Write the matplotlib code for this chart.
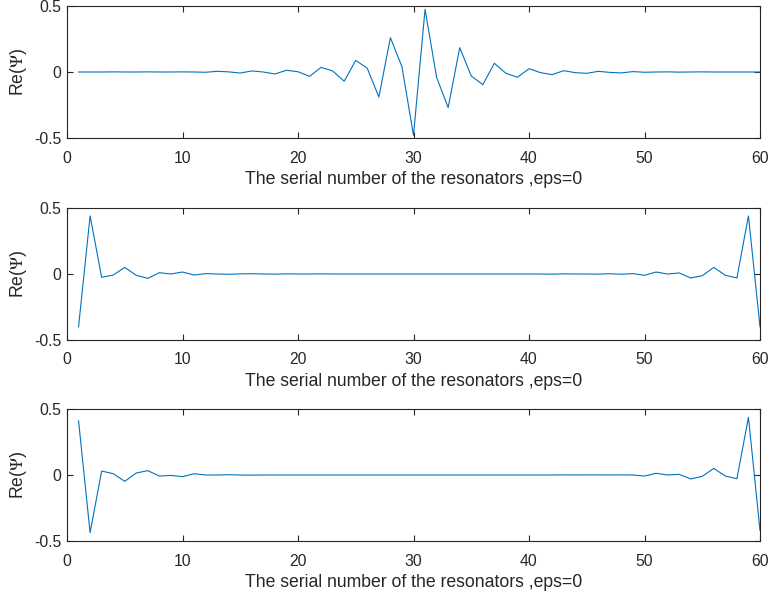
import numpy as np
import matplotlib
matplotlib.use("Agg")
import matplotlib.pyplot as plt

plt.rcParams['font.family'] = ['Liberation Sans', 'DejaVu Sans']
plt.rcParams['mathtext.fontset'] = 'stix'

# resonator index
n = np.arange(1, 61)

# mode 1: localized in the middle of the chain
psi_mid = [
    0.000, 0.000, 0.000, 0.001, 0.000, 0.000, 0.001, 0.000, 0.000, 0.001,
    0.000, -0.002, 0.005, 0.001, -0.008, 0.008, 0.000, -0.015, 0.013, 0.002,
    -0.033, 0.035, 0.008, -0.070, 0.088, 0.028, -0.190, 0.260, 0.040, -0.480,
    0.475, -0.040, -0.270, 0.184, -0.030, -0.096, 0.066, -0.010, -0.040, 0.025,
    -0.005, -0.020, 0.010, -0.005, -0.010, 0.005, -0.003, -0.007, 0.003, -0.002,
    0.000, 0.001, -0.001, 0.000, 0.001, 0.000, 0.000, 0.000, 0.000, 0.000,
]

# mode 2: localized at both ends (symmetric)
psi_edge_sym = [
    -0.400, 0.440, -0.025, -0.008, 0.050, -0.010, -0.033, 0.010, 0.000, 0.015,
    -0.008, 0.003, 0.000, -0.002, 0.001, 0.002, 0.000, -0.001, 0.001, 0.000,
    0.000, 0.001, 0.000, 0.000, 0.000, 0.000, 0.000, 0.000, 0.000, 0.000,
    0.000, 0.000, 0.000, 0.000, 0.000, 0.000, 0.000, 0.000, 0.000, 0.000,
    0.000, -0.001, 0.001, 0.000, 0.000, -0.001, 0.002, -0.002, 0.003, -0.010,
    0.015, 0.000, 0.008, -0.030, -0.013, 0.050, -0.010, -0.030, 0.440, -0.400,
]

# mode 3: localized at both ends (antisymmetric)
psi_edge_anti = [
    0.410, -0.437, 0.030, 0.010, -0.048, 0.015, 0.033, -0.008, -0.003, -0.013,
    0.010, 0.000, 0.000, 0.002, 0.000, -0.001, 0.000, 0.000, 0.000, 0.000,
    0.000, 0.000, 0.000, 0.000, 0.000, 0.000, 0.000, 0.000, 0.000, 0.000,
    0.000, 0.000, 0.000, 0.000, 0.000, 0.000, 0.000, 0.000, 0.000, 0.000,
    0.000, 0.000, 0.001, 0.000, 0.001, 0.001, 0.000, 0.001, 0.000, -0.008,
    0.013, 0.000, 0.005, -0.030, -0.010, 0.050, -0.008, -0.028, 0.437, -0.420,
]

modes = [psi_mid, psi_edge_sym, psi_edge_anti]

x_ticks = [0, 10, 20, 30, 40, 50, 60]
y_ticks = [-0.5, 0, 0.5]
y_tick_labels = ['-0.5', '0', '0.5']
x_label = 'The serial number of the resonators ,eps=0'
y_label = r'Re($\mathit{\Psi}$)'

W, H = 771, 598
fig = plt.figure(figsize=(W / 100, H / 100), dpi=100)

ax_left, ax_right = 67, 760
ax_tops = [6, 208, 409]
ax_h = 132

axis_color = '#262626'
for top, psi in zip(ax_tops, modes):
    ax = fig.add_axes([ax_left / W, 1 - (top + ax_h) / H,
                       (ax_right - ax_left) / W, ax_h / H])
    ax.plot(n, psi, color='#0072BD', lw=0.8)
    ax.set_xlim(0, 60)
    ax.set_ylim(-0.5, 0.5)
    ax.set_xticks(x_ticks)
    ax.set_yticks(y_ticks)
    ax.set_yticklabels(y_tick_labels)
    ax.tick_params(direction='in', top=True, right=True, length=4,
                   width=0.8, colors=axis_color, labelsize=11.3)
    ax.tick_params(axis='x', pad=9)
    ax.tick_params(axis='y', pad=4)
    for s in ax.spines.values():
        s.set_color(axis_color)
        s.set_linewidth(0.8)
    ax.set_xlabel(x_label, fontsize=12.7, color=axis_color, labelpad=4)
    ax.set_ylabel(y_label, fontsize=12.7, color=axis_color, labelpad=4)

fig.savefig('out.png', dpi=100)
